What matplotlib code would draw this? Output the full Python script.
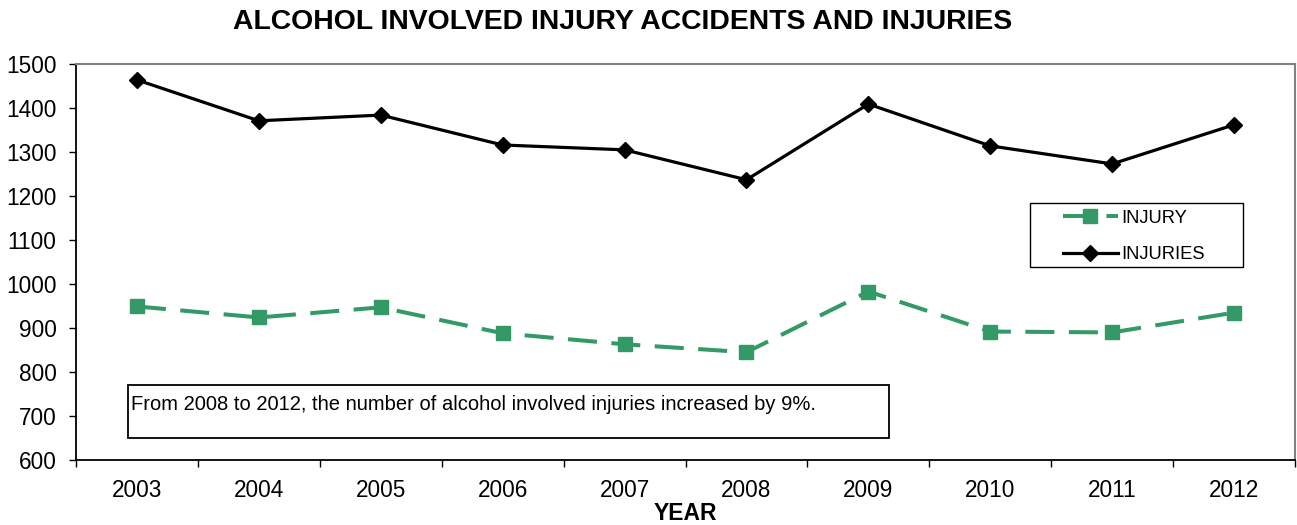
import matplotlib
matplotlib.use("Agg")
import matplotlib.pyplot as plt
from matplotlib.patches import Rectangle

plt.rcParams['font.family'] = ['Liberation Sans', 'DejaVu Sans']

years = ['2003', '2004', '2005', '2006', '2007', '2008', '2009', '2010', '2011', '2012']
injury = [949, 924, 947, 888, 863, 845, 983, 892, 890, 935]
injuries = [1464, 1371, 1384, 1316, 1305, 1237, 1409, 1314, 1273, 1362]
yticks = [600, 700, 800, 900, 1000, 1100, 1200, 1300, 1400, 1500]

fig = plt.figure(figsize=(12.97, 5.25), dpi=100)
ax = fig.add_axes([0.0586, 0.1238, 0.9399, 0.7542])

x = list(range(len(years)))
green = '#339966'
ax.plot(x, injury, color=green, lw=2.9, ls=(0, (7.2, 3.6)), marker='s', ms=9.5,
        label='INJURY')
ax.plot(x, injuries, color='black', lw=2.3, marker='D', ms=8,
        label='INJURIES')

ax.set_xlim(-0.5, len(years) - 0.5)
ax.set_ylim(600, 1500)
ax.set_yticks(yticks)
ax.set_yticklabels([str(v) for v in yticks], fontsize=16.3)
ax.set_xticks(x)
ax.set_xticklabels(years, fontsize=16.3)
ax.tick_params(axis='x', which='major', length=0, pad=14)
ax.set_xticks([i - 0.5 for i in range(len(years) + 1)], minor=True)
ax.tick_params(axis='x', which='minor', length=5, width=1, direction='out')
ax.tick_params(axis='y', length=5, width=1, direction='out', pad=9)

for s in ['top', 'right']:
    ax.spines[s].set_color('#808080')
    ax.spines[s].set_linewidth(1.5)
for s in ['left', 'bottom']:
    ax.spines[s].set_color('black')
    ax.spines[s].set_linewidth(1.3)

ax.set_xlabel('YEAR', fontsize=16.5, fontweight='bold', labelpad=0)
fig.text(0.48, 0.958, 'ALCOHOL INVOLVED INJURY ACCIDENTS AND INJURIES',
         ha='center', va='center', fontsize=20.4, fontweight='bold')

# annotation box
ax.add_patch(Rectangle((-0.074, 650), 6.244, 121, fill=False, ec='black',
                       lw=1.3, zorder=3))
ax.text(-0.045, 726, 'From 2008 to 2012, the number of alcohol involved injuries increased by 9%.',
        fontsize=14.5, va='center', ha='left')

# legend
ax.add_patch(Rectangle((0.7826, 0.487), 0.1747, 0.1616, transform=ax.transAxes,
                       fill=False, ec='black', lw=1.0, zorder=3))
leg = ax.legend(loc='upper left', bbox_to_anchor=(0.8095, 0.632),
                fontsize=13.2, frameon=False, borderpad=0, borderaxespad=0,
                handlelength=3.0, labelspacing=1.05, handletextpad=0.2)

fig.savefig('out.png', dpi=100)
